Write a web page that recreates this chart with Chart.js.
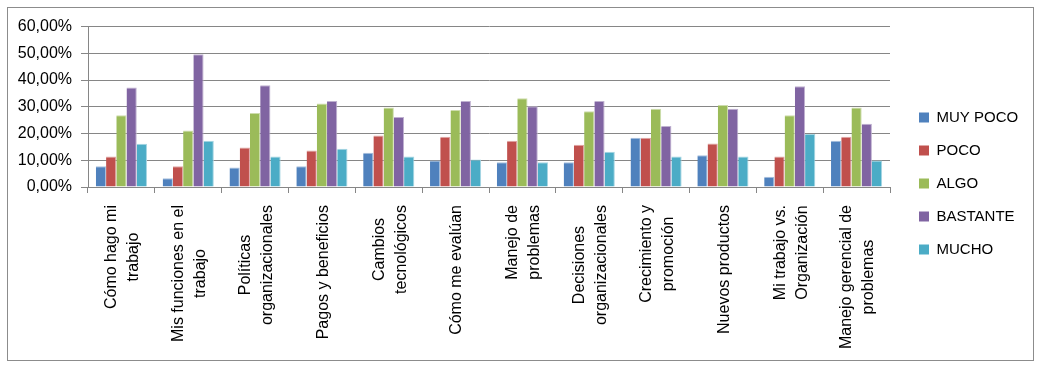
<!DOCTYPE html>
<html>
<head>
<meta charset="utf-8">
<script src="https://cdn.jsdelivr.net/npm/chart.js@4.4.1/dist/chart.umd.min.js"></script>
<style>
  html, body { margin: 0; padding: 0; background: #ffffff; }
  #frame { position: absolute; left: 7px; top: 7px; width: 1025px; height: 352px; border: 1px solid #8c8c8c; background: #fff; }
  #c { display: block; }
</style>
</head>
<body>
<div id="frame"><canvas id="c" width="1025" height="352"></canvas></div>
<script>
const categories = [
  ["Cómo hago mi", "trabajo"],
  ["Mis funciones en el", "trabajo"],
  ["Políticas", "organizacionales"],
  "Pagos y beneficios",
  ["Cambios", "tecnológicos"],
  "Cómo me evalúan",
  ["Manejo de", "problemas"],
  ["Decisiones", "organizacionales"],
  ["Crecimiento y", "promoción"],
  "Nuevos productos",
  ["Mi trabajo vs.", "Organización"],
  ["Manejo gerencial de", "problemas"]
];
const seriesNames = ["MUY POCO", "POCO", "ALGO", "BASTANTE", "MUCHO"];
const muyPoco  = [7.8, 3.3, 7.3, 7.8, 12.8, 9.9, 9.3, 9.3, 18.4, 11.9, 3.8, 17.3];
const poco     = [11.4, 7.8, 14.8, 13.7, 19.3, 18.8, 17.3, 15.8, 18.4, 16.3, 11.4, 18.8];
const algo     = [26.8, 21.1, 27.7, 31.2, 29.7, 28.8, 33.2, 28.3, 29.3, 30.7, 26.8, 29.7];
const bastante = [37.2, 49.7, 38.1, 32.2, 26.2, 32.2, 30.2, 32.2, 22.8, 29.3, 37.7, 23.7];
const mucho    = [16.2, 17.3, 11.4, 14.3, 11.4, 10.3, 9.3, 13.2, 11.4, 11.4, 19.8, 9.9];
const yTicks   = [0, 10, 20, 30, 40, 50, 60];
const colors   = ["#4F81BD", "#C0504D", "#9BBB59", "#8064A2", "#4BACC6"];
const edgeColors = ["#a7bfdd", "#dfa7a5", "#cddcac", "#bfb1d0", "#a5d5e2"];

const values = [muyPoco, poco, algo, bastante, mucho];
const FONT = "'Liberation Sans', Arial, sans-serif";
const gridColor = "#868686";

const tunePlugin = {
  id: 'tune',
  beforeLayout(chart) {
    const lg = chart.legend;
    if (lg && !lg._tuned) {
      const orig = lg.fit.bind(lg);
      lg.fit = function () { orig(); this.width = 143; };
      lg._tuned = true;
    }
  },
  afterLayout(chart) {
    const lg = chart.legend;
    if (lg) { lg.left += 11; lg.right += 11; lg.top -= 9; lg.bottom -= 9; }
  },
  beforeDraw(chart) {
    // center multi-line rotated category labels like the original
    const sx = chart.scales.x;
    const items = sx.getLabelItems(chart.chartArea);
    const ctx = chart.ctx;
    items.forEach((it, i) => {
      if (it._centered) return;
      const lines = Array.isArray(it.label) ? it.label : [it.label];
      ctx.save();
      ctx.font = it.font.string;
      let maxW = 0;
      lines.forEach(l => { maxW = Math.max(maxW, ctx.measureText(l).width); });
      ctx.restore();
      const lh = it.font.lineHeight;
      it.options.textAlign = 'center';
      it.options.textBaseline = 'middle';
      it.options.translation[0] = sx.getPixelForTick(i) + 1.5;
      it.options.translation[1] += maxW / 2;
      it.textOffset = -(lines.length - 1) * lh / 2;
      it._centered = true;
    });
  }
};

new Chart(document.getElementById('c'), {
  type: 'bar',
  data: {
    labels: categories,
    datasets: seriesNames.map((n, i) => ({
      label: n,
      data: values[i],
      backgroundColor: colors[i],
      borderColor: edgeColors[i],
      borderWidth: { top: 1, right: 1, left: 0, bottom: 0 },
      borderSkipped: 'bottom',
      categoryPercentage: 0.765,
      barPercentage: 1.0
    }))
  },
  options: {
    responsive: false,
    animation: false,
    devicePixelRatio: 1,
    layout: { padding: { top: 17, left: 0, right: 0, bottom: 0 } },
    plugins: {
      tooltip: { enabled: false },
      legend: {
        position: 'right',
        labels: {
          boxWidth: 10,
          boxHeight: 10,
          padding: 18,
          color: '#000',
          font: { family: FONT, size: 15 },
          generateLabels(chart) {
            return chart.data.datasets.map((d, i) => ({
              text: d.label, fillStyle: colors[i], strokeStyle: colors[i],
              lineWidth: 0, hidden: false, datasetIndex: i, fontColor: '#000'
            }));
          }
        }
      }
    },
    scales: {
      x: {
        afterFit(scale) { scale.height = 173; },
        grid: { display: true, drawOnChartArea: false, drawTicks: true, tickLength: 6, color: gridColor, offset: true },
        border: { display: true, color: gridColor },
        ticks: {
          minRotation: 90, maxRotation: 90, autoSkip: false, padding: 12,
          color: '#000',
          font: { family: FONT, size: 16, lineHeight: 1.375 }
        }
      },
      y: {
        min: 0, max: 60,
        afterFit(scale) { scale.width = 80; },
        afterBuildTicks(scale) { scale.ticks = yTicks.map(v => ({ value: v })); },
        grid: { color: gridColor, drawTicks: true, tickLength: 7 },
        border: { display: true, color: gridColor },
        ticks: {
          padding: 9,
          color: '#000',
          font: { family: FONT, size: 16 },
          callback: v => v.toFixed(2).replace('.', ',') + '%'
        }
      }
    }
  },
  plugins: [tunePlugin]
});
</script>
</body>
</html>
